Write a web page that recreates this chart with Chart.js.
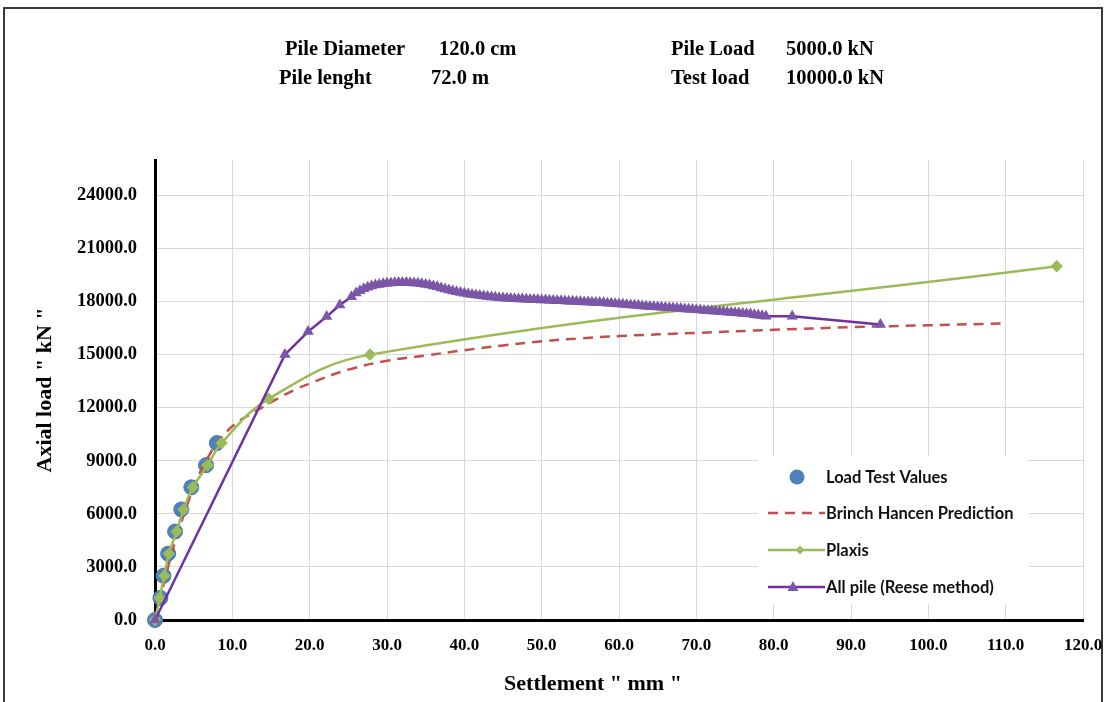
<!DOCTYPE html>
<html>
<head>
<meta charset="utf-8">
<script src="https://cdn.jsdelivr.net/npm/chart.js@4.4.1/dist/chart.umd.min.js"></script>
<style>
  html, body { margin: 0; padding: 0; background: #fff; }
  #wrap { position: relative; width: 1109px; height: 702px; overflow: hidden; }
  #frame { position: absolute; left: 3px; top: 7px; width: 1100px; height: 720px; border: 2px solid #3a3a3a; box-sizing: border-box; }
  canvas { position: absolute; left: 0; top: 0; }
  .hdr { position: absolute; font-family: "Liberation Serif", "Times New Roman", serif; font-weight: bold; font-size: 20.5px; line-height: 24px; color: #000; white-space: nowrap; }
  #xtitle { position: absolute; left: 443px; width: 300px; top: 670px; text-align: center; font-family: "Liberation Serif", serif; font-weight: bold; font-size: 22px; line-height: 26px; color: #000; white-space: pre; }
</style>
</head>
<body>
<div id="wrap">
  <div id="frame"></div>
  <canvas id="c" width="1109" height="702"></canvas>
  <div class="hdr" style="left:285px; top:36px;">Pile Diameter</div>
  <div class="hdr" style="left:439px; top:36px;">120.0 cm</div>
  <div class="hdr" style="left:279px; top:65px;">Pile lenght</div>
  <div class="hdr" style="left:431px; top:65px;">72.0 m</div>
  <div class="hdr" style="left:671px; top:36px;">Pile Load</div>
  <div class="hdr" style="left:786px; top:36px;">5000.0 kN</div>
  <div class="hdr" style="left:671px; top:65px;">Test load</div>
  <div class="hdr" style="left:786px; top:65px;">10000.0 kN</div>
  <div id="xtitle">Settlement " mm "</div>
</div>
<script>
// ---- Data ----
const seriesNames = ["Load Test Values", "Brinch Hancen Prediction", "Plaxis", "All pile (Reese method)"];

// Load test (settlement mm, load kN)
const loadX = [0, 0.7, 1.1, 1.7, 2.6, 3.4, 4.7, 6.6, 8.0];
const loadY = [0, 1250, 2500, 3750, 5000, 6250, 7500, 8750, 10000];

// Brinch Hansen prediction
const brinchX = [0, 1, 2, 3, 4, 5, 6, 7, 8, 10, 12, 14, 16, 18, 20, 25, 30, 35, 40, 45, 50, 55, 60, 70, 80, 90, 100, 110];
const brinchY = [0, 1800, 3500, 5000, 6300, 7500, 8500, 9300, 10000, 10950, 11550, 12050, 12550, 13000, 13370, 14150, 14650, 14950, 15250, 15520, 15750, 15920, 16050, 16230, 16400, 16550, 16660, 16760];

// Plaxis
const plaxisX = [0, 0.6, 1.2, 1.8, 2.8, 3.7, 4.9, 6.8, 8.6, 14.7, 27.8, 116.6];
const plaxisY = [0, 1250, 2500, 3750, 5000, 6250, 7500, 8750, 10000, 12500, 15000, 20000];

// All pile (Reese method)
const reeseX = [0, 16.8, 19.8, 22.2, 23.9, 25.4,
  26.0, 26.5, 27.0, 27.5, 28.0, 28.5, 29.0, 29.5, 30.0, 30.5, 31.0, 31.5, 32.0, 32.5, 33.0, 33.5, 34.0, 34.5, 35.0, 35.5,
  36.0, 36.5, 37.0, 37.5, 38.0, 38.5, 39.0, 39.5, 40.0, 40.5, 41.0, 41.5, 42.0, 42.5, 43.0, 43.5, 44.0, 44.5, 45.0, 45.5,
  46.0, 46.5, 47.0, 47.5, 48.0, 48.5, 49.0, 49.5, 50.0, 50.5, 51.0, 51.5, 52.0, 52.5, 53.0, 53.5, 54.0, 54.5, 55.0, 55.5,
  56.0, 56.5, 57.0, 57.5, 58.0, 58.5, 59.0, 59.5, 60.0, 60.5, 61.0, 61.5, 62.0, 62.5, 63.0, 63.5, 64.0, 64.5, 65.0, 65.5,
  66.0, 66.5, 67.0, 67.5, 68.0, 68.5, 69.0, 69.5, 70.0, 70.5, 71.0, 71.5, 72.0, 72.5, 73.0, 73.5, 74.0, 74.5, 75.0, 75.5,
  76.0, 76.5, 77.0, 77.5, 78.0, 78.5, 79.0, 82.4, 93.8];
const reeseY = [0, 15000, 16300, 17150, 17800, 18270,
  18480, 18610, 18720, 18810, 18880, 18930, 18970, 19000, 19030, 19050, 19060, 19070, 19070, 19070, 19060, 19050, 19030, 19000, 18970, 18930,
  18880, 18830, 18770, 18710, 18650, 18600, 18550, 18510, 18470, 18430, 18400, 18370, 18340, 18310, 18290, 18260, 18240, 18220, 18200, 18190,
  18170, 18160, 18150, 18140, 18130, 18120, 18110, 18100, 18090, 18080, 18070, 18060, 18050, 18040, 18030, 18020, 18010, 18000, 17990, 17980,
  17970, 17960, 17950, 17940, 17930, 17910, 17900, 17880, 17860, 17840, 17820, 17800, 17790, 17770, 17750, 17740, 17720, 17710, 17690, 17680,
  17660, 17650, 17630, 17620, 17600, 17580, 17570, 17550, 17530, 17520, 17500, 17480, 17460, 17450, 17430, 17420, 17400, 17380, 17370, 17350,
  17330, 17310, 17290, 17260, 17230, 17200, 17170, 17170, 16700];

// Axis settings and tick labels
const xTicks = [0, 10, 20, 30, 40, 50, 60, 70, 80, 90, 100, 110, 120];
const yTicks = [0, 3000, 6000, 9000, 12000, 15000, 18000, 21000, 24000];
const xMin = 0, xMax = 120;
const yMin = 0, yMax = 26000;
const xTitle = 'Settlement " mm "';
const yTitle = 'Axial load " kN "';

// ---- Colours ----
const cBlue = '#4F81BD', cRed = '#C0504D', cGreen = '#9BBB59', cPurple = '#7030A0', cPurpleMk = '#7B55A8';

const pts = (xs, ys) => xs.map((x, i) => ({ x: x, y: ys[i] }));

const legendPlugin = {
  id: 'boxLegend',
  afterDraw(chart) {
    const ctx = chart.ctx;
    ctx.save();
    ctx.fillStyle = '#ffffff';
    ctx.fillRect(758, 456, 270, 148);
    ctx.font = 'bold 16.5px Lato, "Open Sans", sans-serif';
    ctx.textBaseline = 'middle';
    ctx.textAlign = 'left';
    const tx = 826;
    const rows = [477, 513, 550, 587];
    ctx.beginPath(); ctx.arc(797, rows[0], 7.5, 0, Math.PI * 2); ctx.fillStyle = cBlue; ctx.fill();
    ctx.beginPath(); ctx.setLineDash([10, 7]); ctx.strokeStyle = cRed; ctx.lineWidth = 2.5;
    ctx.moveTo(768, rows[1]); ctx.lineTo(825, rows[1]); ctx.stroke(); ctx.setLineDash([]);
    ctx.beginPath(); ctx.strokeStyle = cGreen; ctx.lineWidth = 2.5; ctx.moveTo(768, rows[2]); ctx.lineTo(825, rows[2]); ctx.stroke();
    ctx.beginPath(); ctx.fillStyle = cGreen; ctx.moveTo(800, rows[2] - 4.5); ctx.lineTo(804.5, rows[2]); ctx.lineTo(800, rows[2] + 4.5); ctx.lineTo(795.5, rows[2]); ctx.closePath(); ctx.fill();
    ctx.beginPath(); ctx.strokeStyle = cPurple; ctx.lineWidth = 2.5; ctx.moveTo(768, rows[3]); ctx.lineTo(825, rows[3]); ctx.stroke();
    ctx.beginPath(); ctx.fillStyle = cPurpleMk; ctx.moveTo(793, rows[3] - 6); ctx.lineTo(798.5, rows[3] + 4); ctx.lineTo(787.5, rows[3] + 4); ctx.closePath(); ctx.fill();
    ctx.fillStyle = '#111';
    seriesNames.forEach((n, i) => ctx.fillText(n, tx, rows[i] + 1));
    ctx.restore();
  }
};

new Chart(document.getElementById('c'), {
  type: 'scatter',
  data: {
    datasets: [
      {
        label: seriesNames[0], data: pts(loadX, loadY), showLine: false,
        pointStyle: 'circle', pointRadius: 7.5, pointBackgroundColor: cBlue, pointBorderColor: '#4A78B0', pointBorderWidth: 1,
        order: 4, clip: false
      },
      {
        label: seriesNames[1], data: pts(brinchX, brinchY), showLine: true,
        borderColor: cRed, borderWidth: 2.5, borderDash: [10, 7], tension: 0.4, pointRadius: 0,
        order: 3, clip: false
      },
      {
        label: seriesNames[2], data: pts(plaxisX, plaxisY), showLine: true,
        borderColor: cGreen, borderWidth: 2.5, tension: 0.4,
        pointStyle: 'rectRot', pointRadius: 4.5, pointBackgroundColor: cGreen, pointBorderColor: cGreen,
        order: 2, clip: false
      },
      {
        label: seriesNames[3], data: pts(reeseX, reeseY), showLine: true,
        borderColor: cPurple, borderWidth: 2.5, tension: 0,
        pointStyle: 'triangle', pointRadius: 6.5, pointBackgroundColor: cPurpleMk, pointBorderColor: cPurpleMk, pointBorderWidth: 0,
        order: 1, clip: false
      }
    ]
  },
  options: {
    responsive: false,
    animation: false,
    devicePixelRatio: 1,
    layout: { padding: { top: 160, right: 26, left: 0, bottom: 0 } },
    plugins: { legend: { display: false }, tooltip: { enabled: false } },
    scales: {
      x: {
        type: 'linear', min: xMin, max: xMax,
        afterFit: (s) => { s.height = 82; s.paddingLeft = 0; s.paddingRight = 0; },
        afterBuildTicks: (s) => { s.ticks = xTicks.map(v => ({ value: v })); },
        ticks: {
          padding: 15, color: '#000', font: { family: '"Liberation Serif", serif', weight: 'bold', size: 17 },
          callback: (v) => Number(v).toFixed(1), maxRotation: 0, autoSkip: false
        },
        grid: { color: '#d9d9d9', lineWidth: 1, drawTicks: false },
        border: { color: '#000', width: 3 }
      },
      y: {
        type: 'linear', min: yMin, max: yMax,
        afterFit: (s) => { s.width = 155; s.paddingTop = 0; s.paddingBottom = 0; },
        afterBuildTicks: (s) => { s.ticks = yTicks.map(v => ({ value: v })); },
        ticks: {
          padding: 18, color: '#000', font: { family: '"Liberation Serif", serif', weight: 'bold', size: 18.5 }, autoSkip: false,
          callback: (v) => Number(v).toFixed(1)
        },
        grid: { color: '#d9d9d9', lineWidth: 1, drawTicks: false },
        border: { color: '#000', width: 3 },
        title: {
          display: true, text: yTitle, color: '#000', padding: { top: 32, bottom: 0 },
          font: { family: '"Liberation Serif", serif', weight: 'bold', size: 22 }
        }
      }
    }
  },
  plugins: [legendPlugin]
});
</script>
</body>
</html>
